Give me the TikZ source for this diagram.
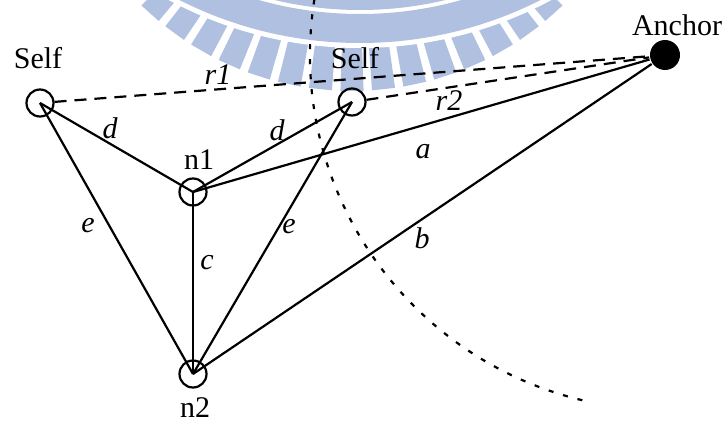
\documentclass[tikz,border=0pt]{standalone}
\usepackage{fontspec}
\setmainfont{Liberation Serif}
\definecolor{wm}{RGB}{176,192,224}
\begin{document}
\begin{tikzpicture}[x=1pt,y=-1pt, line width=2.2pt,
  lbl/.style={font=\fontsize{30}{36}\selectfont, inner sep=0pt},
  ilbl/.style={font=\fontsize{30}{36}\selectfont\itshape, inner sep=0pt},
  ring/.style={circle, draw, minimum size=27pt, inner sep=0pt},
  dashline/.style={dash pattern=on 12pt off 8pt},
  dotline/.style={dash pattern=on 5pt off 10pt}]
\useasboundingbox (0,0) rectangle (726,423);
% watermark
\begin{scope}
  \clip (0,0) rectangle (726,423);
  \begin{scope}[shift={(352,-211)}]
    \foreach \a in {132,126,120,114,108,102,96,90,84,78,72,66,60,54,48,42} {
      \fill[wm] (\a-2.4:150) -- (\a-2.2:302) -- (\a+2.2:302) -- (\a+2.4:150) -- cycle;
    }
  \end{scope}
  \fill[white] (360,-357) circle[radius=405];
  \fill[wm, even odd rule] (360,-357) circle[radius=400] (360,-357) circle[radius=371];
  \fill[wm, even odd rule] (360,-357) circle[radius=367] (360,-357) circle[radius=356];
\end{scope}
% nodes
\node[ring] (s1) at (40,103) {};
\node[ring] (s2) at (352,102) {};
\node[ring] (n1) at (193,192) {};
\node[ring] (n2) at (193,374) {};
\node[circle, fill, minimum size=30pt, inner sep=0pt] (anc) at (665,55) {};
% connectors
\draw (s1.center) -- (n1.center);
\draw (s2.center) -- (n1.center);
\draw (s1.center) -- (n2.center);
\draw (s2.center) -- (n2.center);
\draw (n1.center) -- (n2.center);
\draw (n1.center) -- (anc);
\draw (n2.center) -- (anc);
\draw[dashline] (s1) -- (anc);
\draw[dashline] (s2) -- (anc);
\draw[dotline] (anc.center) ++(189:355) arc[start angle=189, end angle=102, radius=355];
% labels
\node[lbl] (ls1) at (38,58) {Self};
\node[lbl] (ls2) at (355,58) {Self};
\node[lbl] (ln1) at (199,160) {n1};
\node[lbl] (ln2) at (195,408) {n2};
\node[lbl] (lanc) at (677,25) {Anchor};
\node[ilbl] (lr1) at (218,75) {r1};
\node[ilbl] (lr2) at (449,101) {r2};
\node[ilbl] (ld1) at (110,128) {d};
\node[ilbl] (ld2) at (277,130) {d};
\node[ilbl] (la) at (423,152) {a};
\node[ilbl] (lb) at (422,238) {b};
\node[ilbl] (lc) at (207,263) {c};
\node[ilbl] (le2) at (289,227) {e};
\node[ilbl] (le1) at (88,226) {e};
\end{tikzpicture}
\end{document}
